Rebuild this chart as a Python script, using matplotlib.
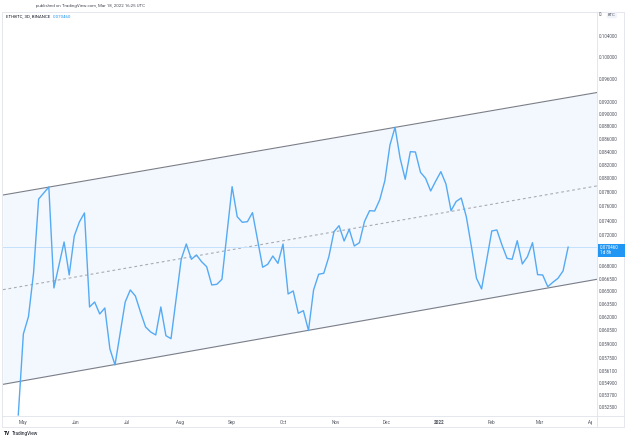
import numpy as np
import pandas as pd
import matplotlib
matplotlib.use("Agg")
from matplotlib import pyplot as plt
from matplotlib import ticker, transforms
from matplotlib.patches import Rectangle
from matplotlib.lines import Line2D

plt.rcParams['font.family'] = ['Roboto', 'DejaVu Sans']

# ETHBTC 3D closes (candle index from first candle, price) - turning points
start_date = "2021-04-28"
candle_idx = [0, 1, 2, 3, 4, 6, 7, 9, 10, 11, 12, 13, 14, 15, 16, 17, 18, 19,
              21, 22, 23, 24, 25, 26, 27, 28, 29, 30, 32, 33, 34, 35, 36, 37,
              38, 39, 40, 42, 43, 44, 45, 46, 48, 49, 50, 51, 52, 53, 54, 55,
              56, 57, 58, 59, 60, 61, 62, 63, 64, 65, 66, 67, 68, 69, 70, 71,
              72, 73, 74, 75, 76, 77, 78, 79, 80, 81, 82, 83, 84, 85, 86, 87,
              88, 89, 90, 91, 92, 93, 94, 95, 96, 97, 98, 99, 100, 101, 102,
              103, 104, 105, 106, 107, 108]
close = [0.05173, 0.06005, 0.06199, 0.06719, 0.07699, 0.07871, 0.06536, 0.07113,
         0.06694, 0.07192, 0.07380, 0.07504, 0.06311, 0.06369, 0.06230, 0.06299,
         0.05841, 0.05672, 0.06369, 0.06512, 0.06440, 0.06253, 0.06083, 0.06027,
         0.05994, 0.06311, 0.05986, 0.05953, 0.06890, 0.07087, 0.06890, 0.06945,
         0.06860, 0.06797, 0.06572, 0.06580, 0.06641, 0.07876, 0.07452, 0.07376,
         0.07384, 0.07508, 0.06790, 0.06827, 0.06932, 0.06839, 0.07087, 0.06464,
         0.06500, 0.06238, 0.06268, 0.06043, 0.06512, 0.06703, 0.06715, 0.06923,
         0.07249, 0.07330, 0.07126, 0.07281, 0.07061, 0.07104, 0.07387, 0.07535,
         0.07531, 0.07689, 0.07963, 0.08504, 0.08786, 0.08298, 0.07984, 0.08400,
         0.08395, 0.08087, 0.07998, 0.07814, 0.07959, 0.08096, 0.07915, 0.07535,
         0.07664, 0.07713, 0.07452, 0.07052, 0.06653, 0.06524, 0.06881, 0.07259,
         0.07272, 0.07074, 0.06902, 0.06890, 0.07130, 0.06831, 0.06923, 0.07104,
         0.06698, 0.06694, 0.06551, 0.06605, 0.06653, 0.06744, 0.07046]
last_price = 0.070460

# parallel channel drawn on the chart
channel_dates = ["2021-04-19", "2022-04-04"]
channel_upper = [0.07756, 0.09367]
channel_lower = [0.05473, 0.06641]

price_ticks = [0.104, 0.100, 0.096, 0.092, 0.090, 0.088, 0.086, 0.084, 0.082,
               0.080, 0.078, 0.076, 0.074, 0.072, 0.068, 0.0665, 0.065, 0.0635,
               0.062, 0.0605, 0.059, 0.0575, 0.0561, 0.0549, 0.0537, 0.0525]
month_ticks = ["2021-05-01", "2021-06-01", "2021-07-01", "2021-08-01", "2021-09-01",
               "2021-10-01", "2021-11-01", "2021-12-01", "2022-01-01", "2022-02-01",
               "2022-03-01", "2022-04-01"]
month_labels = ["May", "Jun", "Jul", "Aug", "Sep", "Oct", "Nov", "Dec", "2022",
                "Feb", "Mar", "Apr"]

dates = pd.Timestamp(start_date) + pd.to_timedelta(np.array(candle_idx) * 3, unit="D")
ch_x = pd.to_datetime(channel_dates)
ch_up = np.array(channel_upper)
ch_lo = np.array(channel_lower)
ch_mid = np.sqrt(ch_up * ch_lo)

W, H = 626, 440
fig = plt.figure(figsize=(W / 100, H / 100), dpi=100)
fig.patch.set_facecolor("white")


def fx(px):
    return px / W


def fy(py):
    return 1 - py / H


ax = fig.add_axes([fx(3), fy(416), fx(597 - 3), (416 - 12) / H])
ax.set_yscale("log")

ax.fill_between(ch_x, ch_lo, ch_up, color="#f2f8fe", lw=0, zorder=1)
ax.plot(ch_x, ch_up, color="#7b7e88", lw=0.8, zorder=2)
ax.plot(ch_x, ch_lo, color="#7b7e88", lw=0.8, zorder=2)
ax.plot(ch_x, ch_mid, color="#a9abb2", lw=0.8, ls=(0, (2.5, 2.5)), zorder=2)
ax.axhline(last_price, color="#c4e1fb", lw=0.7, zorder=2)
ax.plot(dates, close, color="#55aaf4", lw=1.0, zorder=3, solid_joinstyle="round")

ax.set_xlim(ch_x[0], ch_x[1])
ax.set_ylim(0.05163, 0.10864)

for s in ax.spines.values():
    s.set_visible(False)

ax.yaxis.tick_right()
ax.yaxis.set_major_locator(ticker.FixedLocator(price_ticks))
ax.yaxis.set_major_formatter(ticker.FuncFormatter(lambda v, p: f"{v:.6f}"))
ax.yaxis.set_minor_locator(ticker.NullLocator())
ax.tick_params(axis="y", length=0, pad=1.4, labelsize=3.25, labelcolor="#50535e")
ax.set_xticks([])

# month labels on the time scale, cut off near the price scale like the original
clip_box = transforms.TransformedBbox(transforms.Bbox([[0, 0], [fx(591.5), 1]]), fig.transFigure)
xform = transforms.blended_transform_factory(ax.transData, ax.transAxes)
for d, name in zip(pd.to_datetime(month_ticks), month_labels):
    t = ax.text(d, -6.5 / 404, name, transform=xform, ha="center", va="center",
                fontsize=3.3, color="#50535e",
                fontweight="bold" if name == "2022" else "normal")
    t.set_clip_on(True)
    t.set_clip_box(clip_box)

# pane borders
grey = "#e0e3eb"
fig.add_artist(Rectangle((fx(2), fy(427)), fx(622), (427 - 12) / H, transform=fig.transFigure,
                         fill=False, ec=grey, lw=0.6))
fig.add_artist(Line2D([fx(597), fx(597)], [fy(12), fy(427)], color=grey, lw=0.6))
fig.add_artist(Line2D([fx(2), fx(624)], [fy(416), fy(416)], color=grey, lw=0.6))

# last price label on the scale
fig.canvas.draw()
y_last = ax.transData.transform((0, last_price))[1]
fig.add_artist(Rectangle((fx(597.5), (y_last - 10) / H), fx(27.5), 13 / H,
                         transform=fig.transFigure, fc="#2196f3", ec="none"))
fig.text(fx(599.5), (y_last - 0.5) / H, "0.070460", color="white", fontsize=3.25,
         va="center", ha="left")
fig.text(fx(599.5), (y_last - 5.5) / H, "1d 8h", color="white", fontsize=3.25,
         va="center", ha="left")

# top of the scale
fig.text(fx(599), fy(15), "0.", color="#50535e", fontsize=3.25, va="center")
fig.text(fx(608), fy(15), "BTC", color="#50535e", fontsize=3.0, va="center",
         bbox=dict(boxstyle="round,pad=0.3", fc="#f0f3fa", ec="none"))

# header texts
fig.text(fx(36), fy(5.7), "published on TradingView.com, Mar 18, 2022 16:25 UTC",
         color="#4a4d57", fontsize=3.2, va="center", ha="left")
fig.text(fx(6), fy(16.5), "ETHBTC, 3D, BINANCE", color="#131722", fontsize=3.2,
         va="center", ha="left")
fig.text(fx(53), fy(16.5), "0.070460", color="#2196f3", fontsize=3.2,
         va="center", ha="left")
fig.text(fx(4), fy(433), "TV", color="#131722", fontsize=3.6, fontweight="bold",
         va="center", ha="left")
fig.text(fx(12), fy(433), "TradingView", color="#131722", fontsize=3.4,
         va="center", ha="left")

fig.savefig("out.png", dpi=100, facecolor="white")
